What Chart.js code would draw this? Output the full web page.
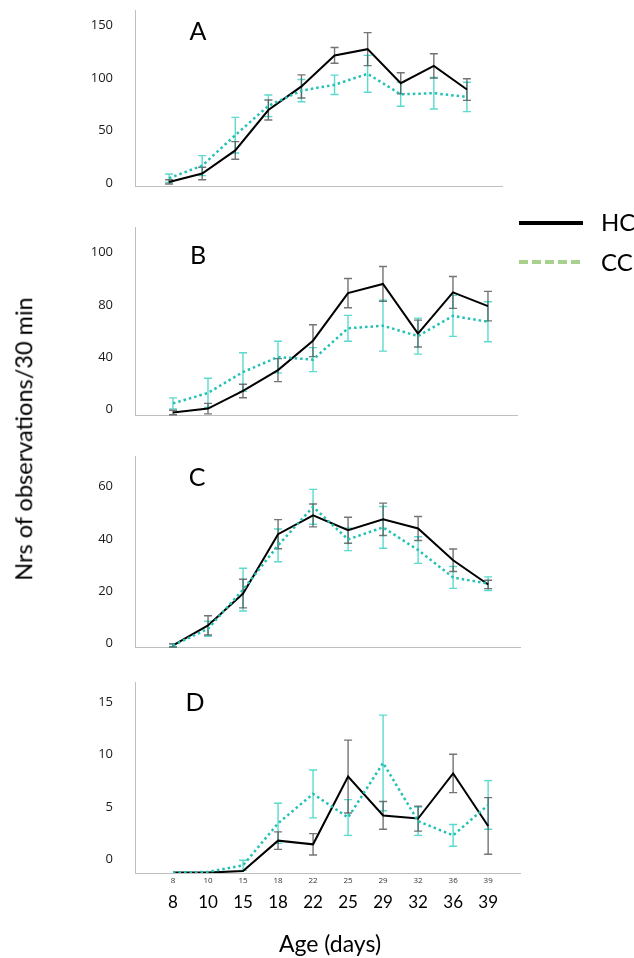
<!DOCTYPE html>
<html>
<head>
<meta charset="utf-8">
<script src="https://cdn.jsdelivr.net/npm/chart.js@4.4.0/dist/chart.umd.min.js"></script>
<style>
  body { margin: 0; background: #fff; width: 634px; height: 958px; overflow: hidden; position: relative; font-family: Lato, sans-serif; }
  canvas { position: absolute; left: 0; }
  .txt { position: absolute; color: #000; white-space: nowrap; line-height: 1; transform: translate(-50%, -50%); }
  .lg { position: absolute; color: #000; white-space: nowrap; line-height: 1; transform: translateY(-50%); font-size: 24px; }
</style>
</head>
<body>
<canvas id="pA"></canvas>
<canvas id="pB"></canvas>
<canvas id="pC"></canvas>
<canvas id="pD"></canvas>

<div class="txt" style="left:198px; top:30px; font-size:25px;">A</div>
<div class="txt" style="left:198px; top:254px; font-size:25px;">B</div>
<div class="txt" style="left:197px; top:476px; font-size:25px;">C</div>
<div class="txt" style="left:195px; top:701px; font-size:25px;">D</div>

<div class="txt" style="left:24px; top:439px; font-size:23.5px; transform: translate(-50%, -50%) rotate(-90deg);">Nrs of observations/30 min</div>
<div class="txt" style="left:330px; top:943px; font-size:23px;">Age (days)</div>

<div style="position:absolute; left:519px; top:221px; width:64px; height:4px; background:#000;"></div>
<div class="lg" style="left:601px; top:222px;">HC</div>
<div style="position:absolute; left:519px; top:260px; width:64px; height:4px; background: repeating-linear-gradient(90deg, #a9d18e 0 9px, transparent 9px 13px);"></div>
<div class="lg" style="left:601px; top:262px;">CC</div>

<script>
// ages on the x axis
const ages = ['8', '10', '15', '18', '22', '25', '29', '32', '36', '39'];

// panel A
const hcA = [1, 9, 31, 69.5, 92, 121.5, 127.5, 95, 111.5, 89];
const hcAErr = [2, 6, 8.4, 9.5, 11, 7.5, 15.7, 10, 11.6, 10.3];
const ccA = [4.5, 16.5, 45.5, 73.5, 88, 93.5, 104, 84.5, 85.5, 82];
const ccAErr = [4, 9.5, 17, 10.3, 10.6, 9.2, 17.6, 11.4, 15, 14];
const ticksA = [0, 50, 100, 150];
const tickLabelsA = ['0', '50', '100', '150'];

// panel B
const hcB = [-2.5, 0.5, 14, 30, 52.5, 89, 96, 58, 89.5, 79];
const hcBErr = [1.7, 4, 5.2, 8.8, 12.2, 11.2, 13.4, 10.3, 12.2, 11.3];
const ccB = [4.5, 12.5, 28.5, 40, 38, 62, 64, 56, 71.5, 67];
const ccBErr = [4.2, 11.2, 14.8, 12.1, 9.2, 9.9, 19.5, 13.8, 15.7, 15.3];
const ticksB = [0, 40, 80, 120];
const tickLabelsB = ['0', '40', '80', '100'];

// panel C
const hcC = [-0.9, 6.8, 19, 41.8, 49, 43.3, 47.5, 44, 31.8, 22.5];
const hcCErr = [0.6, 3.7, 5.5, 5.6, 4.4, 5, 6.2, 4.6, 4.3, 1.6];
const ccC = [-0.9, 5.5, 20.5, 37.5, 52.3, 39.8, 44.4, 35.7, 25.2, 22.8];
const ccCErr = [0.6, 2.9, 8.2, 6.3, 6.7, 4.3, 8, 5.1, 4.2, 2.6];
const ticksC = [0, 20, 40, 60];
const tickLabelsC = ['0', '20', '40', '60'];

// panel D
const hcD = [-1.24, -1.24, -1.1, 1.8, 1.45, 7.9, 4.2, 3.9, 8.2, 3.2];
const hcDErr = [0, 0, 0, 0.83, 1.02, 3.47, 1.32, 1.19, 1.83, 2.69];
const ccD = [-1.24, -1.18, -0.55, 3.45, 6.25, 4, 9.2, 3.65, 2.3, 5.2];
const ccDErr = [0, 0, 0.48, 1.91, 2.28, 1.7, 4.55, 1.35, 1.03, 2.31];
const ticksD = [0, 5, 10, 15];
const tickLabelsD = ['0', '5', '10', '15'];

const HC_COLOR = '#000000';
const CC_COLOR = '#22c1b3';
const AXIS_GREY = '#bfbfbf';

// draws the vertical error bars with small caps
const errorBars = {
  id: 'errorBars',
  beforeDatasetsDraw(chart) {
    const { ctx, scales: { x, y } } = chart;
    chart.data.datasets.forEach(ds => {
      if (!ds.errors) return;
      ctx.save();
      ctx.strokeStyle = ds.errorColor;
      ctx.lineWidth = 1.4;
      ds.data.forEach((p, i) => {
        const e = ds.errors[i];
        if (!e) return;
        const px = x.getPixelForValue(p.x);
        const top = y.getPixelForValue(p.y + e);
        const bot = y.getPixelForValue(p.y - e);
        ctx.beginPath();
        ctx.moveTo(px, top); ctx.lineTo(px, bot);
        ctx.moveTo(px - 4, top); ctx.lineTo(px + 4, top);
        ctx.moveTo(px - 4, bot); ctx.lineTo(px + 4, bot);
        ctx.stroke();
      });
      ctx.restore();
    });
  }
};

function points(vals) {
  return vals.map((v, i) => ({ x: i, y: v }));
}

function panel(id, p) {
  const canvas = document.getElementById(id);
  const axisH = p.showAges ? 40 : 0;
  canvas.width = 634;
  canvas.height = Math.round(p.bottom - p.top) + 80 + axisH;
  canvas.style.top = (p.top - 40) + 'px';

  const scales = {
    x: {
      type: 'linear',
      min: p.xMin,
      max: p.xMax,
      weight: 0,
      grid: { display: false, drawTicks: false },
      border: { display: true, color: AXIS_GREY, width: 1 },
      afterBuildTicks: s => { s.ticks = ages.map((a, i) => ({ value: i })); },
      afterFit: s => { s.height = p.showAges ? 14 : 0; },
      ticks: {
        display: !!p.showAges,
        autoSkip: false,
        maxRotation: 0,
        padding: 3,
        color: '#333',
        font: { family: 'Open Sans', size: 8 },
        callback: v => ages[v]
      }
    },
    y: {
      min: p.yMin,
      max: p.yMax,
      grid: { display: false, drawTicks: false },
      border: { display: true, color: AXIS_GREY, width: 1 },
      afterBuildTicks: s => { s.ticks = p.ticks.map(v => ({ value: v })); },
      afterFit: s => { s.width = 60; },
      ticks: {
        padding: 22,
        color: '#1a1a1a',
        font: { family: 'Open Sans', size: 13 },
        callback: (v, i) => p.tickLabels[i]
      }
    }
  };
  if (p.showAges) {
    scales.x2 = {
      type: 'linear',
      position: 'bottom',
      min: p.xMin,
      max: p.xMax,
      weight: 1,
      grid: { display: false, drawTicks: false },
      border: { display: false },
      afterBuildTicks: s => { s.ticks = ages.map((a, i) => ({ value: i })); },
      afterFit: s => { s.height = 26; },
      ticks: {
        autoSkip: false,
        maxRotation: 0,
        padding: 5,
        color: '#000',
        font: { family: 'Lato', size: 17 },
        callback: v => ages[v]
      }
    };
  }

  return new Chart(canvas, {
    type: 'line',
    data: {
      datasets: [
        {
          label: 'CC',
          data: points(p.cc),
          errors: p.ccErr,
          errorColor: 'rgba(64, 212, 196, 0.85)',
          borderColor: CC_COLOR,
          borderWidth: 2.5,
          borderDash: [2.5, 3],
          pointRadius: 0,
          tension: 0
        },
        {
          label: 'HC',
          data: points(p.hc),
          errors: p.hcErr,
          errorColor: 'rgba(70, 70, 70, 0.75)',
          borderColor: HC_COLOR,
          borderWidth: 2,
          pointRadius: 0,
          tension: 0
        }
      ]
    },
    options: {
      responsive: false,
      animation: false,
      devicePixelRatio: 1,
      layout: { padding: { left: 75, right: 634 - p.right, top: 40, bottom: 40 } },
      plugins: { legend: { display: false }, tooltip: { enabled: false } },
      scales: scales
    },
    plugins: [errorBars]
  });
}

panel('pA', { top: 10, bottom: 186, right: 502, xMin: -1.03, xMax: 10.06, yMin: -2.9, yMax: 164.8,
  hc: hcA, hcErr: hcAErr, cc: ccA, ccErr: ccAErr, ticks: ticksA, tickLabels: tickLabelsA });
panel('pB', { top: 227, bottom: 415, right: 517, xMin: -1.086, xMax: 9.83, yMin: -4.4, yMax: 139.6,
  hc: hcB, hcErr: hcBErr, cc: ccB, ccErr: ccBErr, ticks: ticksB, tickLabels: tickLabelsB });
panel('pC', { top: 456, bottom: 647, right: 520, xMin: -1.086, xMax: 9.91, yMin: -1.5, yMax: 71.8,
  hc: hcC, hcErr: hcCErr, cc: ccC, ccErr: ccCErr, ticks: ticksC, tickLabels: tickLabelsC });
panel('pD', { top: 682, bottom: 873, right: 520, xMin: -1.086, xMax: 9.91, yMin: -1.28, yMax: 16.9,
  hc: hcD, hcErr: hcDErr, cc: ccD, ccErr: ccDErr, ticks: ticksD, tickLabels: tickLabelsD, showAges: true });
</script>
</body>
</html>
